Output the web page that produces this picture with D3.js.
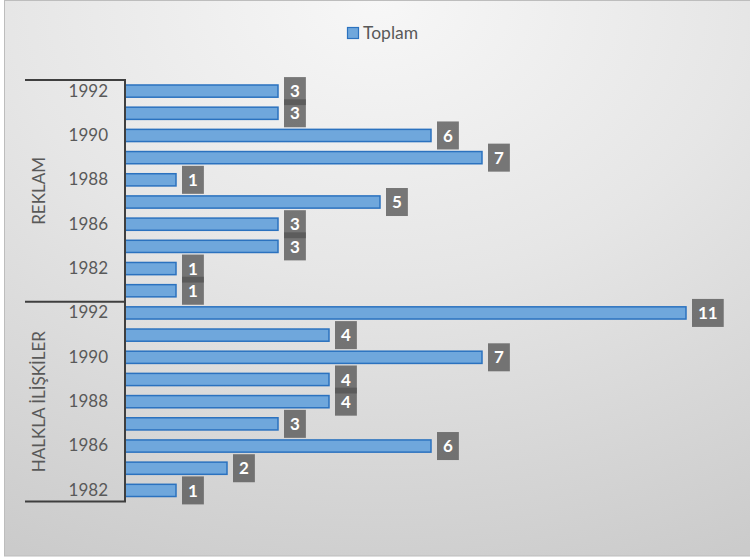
<!DOCTYPE html>
<html>
<head>
<meta charset="utf-8">
<script src="https://cdn.jsdelivr.net/npm/d3@7"></script>
<style>
  html, body { margin: 0; padding: 0; background: #ffffff; }
  svg { display: block; font-family: Lato, "Open Sans", sans-serif; }
</style>
</head>
<body>
<svg id="chart" width="750" height="558"></svg>
<script>
// Categories, top to bottom, grouped by department
const groups = ["REKLAM", "HALKLA İLİŞKİLER"];
const reklamYears = ["1992", "1991", "1990", "1989", "1988", "1987", "1986", "1985", "1982", "1981"];
const reklamValues = [3, 3, 6, 7, 1, 5, 3, 3, 1, 1];
const halklaYears = ["1992", "1991", "1990", "1989", "1988", "1987", "1986", "1984", "1982"];
const halklaValues = [11, 4, 7, 4, 4, 3, 6, 2, 1];
// Year labels shown on the axis (every second category)
const shownYears = {
  "REKLAM": ["1992", "1990", "1988", "1986", "1982"],
  "HALKLA İLİŞKİLER": ["1992", "1990", "1988", "1986", "1982"]
};
const seriesName = "Toplam";

const rows = [
  ...reklamYears.map((yr, i) => ({ group: groups[0], year: yr, value: reklamValues[i] })),
  ...halklaYears.map((yr, i) => ({ group: groups[1], year: yr, value: halklaValues[i] }))
];
rows.forEach(r => r.key = r.group + "|" + r.year);

const svg = d3.select("#chart");
const W = 750, H = 558;
const axisX = 125, plotTop = 80, plotBottom = 501.5;
const textColor = "#595959";

// Background panel with soft radial shading
const defs = svg.append("defs");
const grad = defs.append("radialGradient")
  .attr("id", "bg").attr("cx", "50%").attr("cy", "0%").attr("r", "110%")
  .attr("fx", "50%").attr("fy", "0%");
grad.append("stop").attr("offset", "0%").attr("stop-color", "#f7f7f7");
grad.append("stop").attr("offset", "45%").attr("stop-color", "#e6e6e6");
grad.append("stop").attr("offset", "100%").attr("stop-color", "#cbcbcb");

svg.append("rect")
  .attr("x", 4.5).attr("y", 0.5).attr("width", W - 4).attr("height", H - 2.5)
  .attr("fill", "url(#bg)").attr("stroke", "#bdbdbd").attr("stroke-width", 1);

// Scales
const y = d3.scaleBand()
  .domain(rows.map(r => r.key))
  .range([plotTop, plotBottom])
  .paddingInner(0.45).paddingOuter(0.225);
const x = d3.scaleLinear().domain([0, 12]).range([axisX, axisX + 12 * 51]);

// Bars
svg.append("g").selectAll("rect").data(rows).join("rect")
  .attr("x", x(0))
  .attr("y", d => y(d.key))
  .attr("width", d => x(d.value) - x(0))
  .attr("height", y.bandwidth())
  .attr("fill", "#6fa7dc")
  .attr("stroke", "#2b72bf")
  .attr("stroke-width", 1.5);

// Value labels in dark boxes
const lab = svg.append("g").selectAll("g").data(rows).join("g")
  .attr("transform", d => `translate(${x(d.value) + 6},${y(d.key) + y.bandwidth() / 2})`);
lab.append("text")
  .attr("text-anchor", "middle")
  .attr("dy", "0.36em")
  .attr("fill", "#ffffff")
  .attr("font-weight", "bold")
  .attr("font-size", 17)
  .text(d => d.value);
lab.each(function () {
  const g = d3.select(this);
  const t = g.select("text");
  const w = t.node().getComputedTextLength() + 12;
  g.insert("rect", "text")
    .attr("x", 0).attr("y", -14).attr("width", w).attr("height", 28)
    .attr("fill", "#555555").attr("fill-opacity", 0.78);
  t.attr("x", w / 2);
});

// Category axis: year labels
const yearAxis = d3.axisLeft(y)
  .tickSize(0)
  .tickPadding(17)
  .tickValues(rows.filter(r => shownYears[r.group].includes(r.year)).map(r => r.key))
  .tickFormat(k => k.split("|")[1]);
const ya = svg.append("g").attr("transform", `translate(${axisX},0)`).call(yearAxis);
ya.select(".domain").remove();
ya.selectAll("text").attr("fill", textColor).attr("font-size", 17)
  .attr("font-family", "Lato, 'Open Sans', sans-serif");

// Axis line and group brackets
const lineColor = "#3f3f3f";
svg.append("line").attr("x1", axisX).attr("x2", axisX).attr("y1", plotTop).attr("y2", plotBottom)
  .attr("stroke", lineColor).attr("stroke-width", 2);
const groupEdges = [plotTop];
groups.forEach(g => {
  const ks = rows.filter(r => r.group === g).map(r => r.key);
  groupEdges.push(y(ks[ks.length - 1]) + y.bandwidth() + y.step() * y.paddingInner() / 2);
});
groupEdges[groupEdges.length - 1] = plotBottom;
groupEdges.forEach(e => {
  svg.append("line").attr("x1", 25).attr("x2", axisX + 1).attr("y1", e).attr("y2", e)
    .attr("stroke", lineColor).attr("stroke-width", 2);
});

// Group names, rotated
groups.forEach((g, i) => {
  const cy = (groupEdges[i] + groupEdges[i + 1]) / 2;
  svg.append("text")
    .attr("transform", `translate(39,${cy}) rotate(-90)`)
    .attr("text-anchor", "middle")
    .attr("dy", "0.36em")
    .attr("fill", textColor).attr("font-size", 17)
    .text(g);
});

// Legend
const leg = svg.append("g").attr("transform", "translate(347,27)");
leg.append("rect").attr("x", 0.5).attr("y", 0.5).attr("width", 11).attr("height", 11)
  .attr("fill", "#6fa7dc").attr("stroke", "#2b72bf").attr("stroke-width", 1.2);
leg.append("text").attr("x", 16).attr("y", 6).attr("dy", "0.36em")
  .attr("fill", textColor).attr("font-size", 17.5).text(seriesName);
</script>
</body>
</html>
